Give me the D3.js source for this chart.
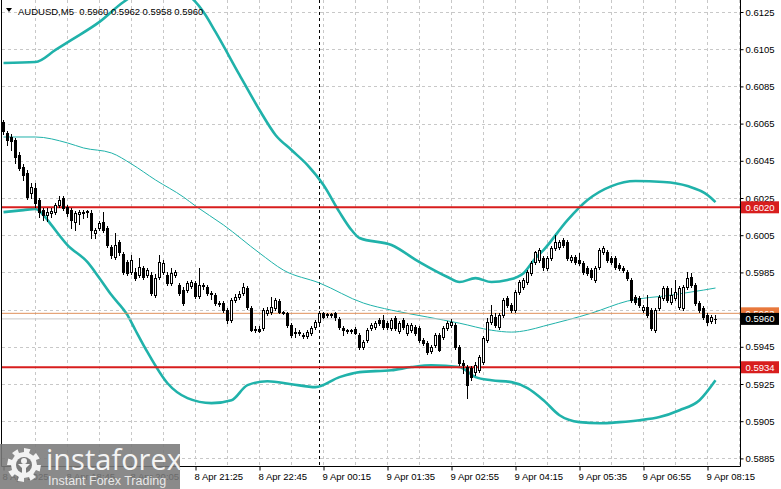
<!DOCTYPE html>
<html><head><meta charset="utf-8">
<script src="https://cdn.jsdelivr.net/npm/d3@7/dist/d3.min.js"></script>
<style>html,body{margin:0;padding:0;background:#fff;overflow:hidden}</style>
</head><body>
<svg id="c" width="781" height="489" xmlns="http://www.w3.org/2000/svg"></svg>
<script>
// ---------------- DATA ----------------
const symbolTitle = "AUDUSD,M5";
const lastQuote = ["0.5960", "0.5962", "0.5958", "0.5960"];

const open = [
0.60658,0.60600,0.60578,0.60562,0.60481,0.60416,0.60384,0.60277,0.60304,0.60239,
0.60185,0.60158,0.60169,0.60174,0.60212,0.60250,0.60201,0.60185,0.60120,0.60163,
0.60174,0.60174,0.60169,0.60062,0.60088,0.60120,0.60088,0.59986,0.59932,0.60013,
0.59948,0.59905,0.59851,0.59851,0.59835,0.59873,0.59835,0.59835,0.59728,0.59824,
0.59851,0.59835,0.59793,0.59835,0.59782,0.59755,0.59755,0.59777,0.59793,0.59723,
0.59782,0.59771,0.59739,0.59728,0.59685,0.59685,0.59647,0.59593,0.59701,0.59717,
0.59739,0.59766,0.59658,0.59544,0.59544,0.59550,0.59631,0.59636,0.59658,0.59696,
0.59636,0.59631,0.59566,0.59528,0.59528,0.59512,0.59507,0.59523,0.59555,0.59582,
0.59631,0.59625,0.59625,0.59631,0.59598,0.59550,0.59539,0.59539,0.59544,0.59512,
0.59448,0.59486,0.59550,0.59555,0.59593,0.59593,0.59577,0.59550,0.59604,0.59534,
0.59593,0.59523,0.59539,0.59555,0.59550,0.59486,0.59470,0.59426,0.59459,0.59512,
0.59502,0.59550,0.59566,0.59566,0.59448,0.59362,0.59340,0.59335,0.59313,0.59324,
0.59367,0.59486,0.59582,0.59609,0.59555,0.59620,0.59712,0.59674,0.59647,0.59744,
0.59771,0.59798,0.59846,0.59905,0.59916,0.59927,0.59873,0.59927,0.59981,0.59986,
0.60024,0.60013,0.59916,0.59932,0.59916,0.59900,0.59873,0.59862,0.59809,0.59878,
0.59959,0.59959,0.59927,0.59927,0.59889,0.59873,0.59851,0.59809,0.59717,0.59712,
0.59647,0.59663,0.59647,0.59539,0.59658,0.59712,0.59766,0.59690,0.59712,0.59663,
0.59658,0.59771,0.59824,0.59782,0.59685,0.59658,0.59620,0.59588,0.59600];

const high = [
0.60669,0.60611,0.60594,0.60573,0.60497,0.60432,0.60400,0.60331,0.60331,0.60250,
0.60196,0.60196,0.60196,0.60223,0.60261,0.60261,0.60212,0.60196,0.60180,0.60185,
0.60185,0.60185,0.60185,0.60088,0.60126,0.60174,0.60099,0.59997,0.60062,0.60024,
0.59959,0.59916,0.59943,0.59873,0.59927,0.59884,0.59873,0.59851,0.59841,0.59943,
0.59916,0.59851,0.59873,0.59862,0.59793,0.59771,0.59803,0.59809,0.59803,0.59873,
0.59793,0.59782,0.59750,0.59739,0.59696,0.59696,0.59658,0.59712,0.59733,0.59750,
0.59793,0.59777,0.59669,0.59560,0.59560,0.59658,0.59663,0.59717,0.59712,0.59706,
0.59642,0.59636,0.59577,0.59550,0.59539,0.59523,0.59539,0.59560,0.59593,0.59642,
0.59636,0.59631,0.59631,0.59636,0.59609,0.59560,0.59544,0.59544,0.59555,0.59523,
0.59486,0.59550,0.59577,0.59588,0.59604,0.59620,0.59588,0.59604,0.59615,0.59588,
0.59604,0.59577,0.59577,0.59566,0.59560,0.59496,0.59480,0.59459,0.59523,0.59523,
0.59560,0.59588,0.59598,0.59577,0.59459,0.59378,0.59351,0.59345,0.59367,0.59405,
0.59507,0.59604,0.59674,0.59631,0.59631,0.59712,0.59723,0.59685,0.59755,0.59809,
0.59819,0.59862,0.59911,0.59965,0.59981,0.59938,0.59938,0.59991,0.60051,0.60024,
0.60035,0.60024,0.59943,0.59943,0.59954,0.59911,0.59884,0.59873,0.59884,0.59981,
0.59991,0.59970,0.59938,0.59938,0.59900,0.59884,0.59862,0.59819,0.59728,0.59723,
0.59674,0.59728,0.59658,0.59658,0.59728,0.59777,0.59777,0.59766,0.59809,0.59777,
0.59782,0.59851,0.59846,0.59793,0.59696,0.59669,0.59631,0.59620,0.59620];

const low = [
0.60594,0.60535,0.60508,0.60438,0.60400,0.60347,0.60245,0.60250,0.60201,0.60147,
0.60131,0.60126,0.60147,0.60163,0.60201,0.60185,0.60153,0.60088,0.60078,0.60109,
0.60142,0.60147,0.60035,0.60035,0.60078,0.60067,0.59986,0.59927,0.59922,0.59943,
0.59840,0.59835,0.59840,0.59809,0.59824,0.59814,0.59824,0.59728,0.59717,0.59814,
0.59840,0.59782,0.59782,0.59824,0.59728,0.59674,0.59744,0.59766,0.59712,0.59712,
0.59760,0.59728,0.59706,0.59674,0.59669,0.59636,0.59577,0.59582,0.59690,0.59706,
0.59728,0.59653,0.59534,0.59528,0.59528,0.59539,0.59620,0.59625,0.59647,0.59631,
0.59625,0.59555,0.59502,0.59502,0.59512,0.59496,0.59496,0.59512,0.59544,0.59571,
0.59604,0.59609,0.59609,0.59593,0.59544,0.59512,0.59523,0.59523,0.59518,0.59437,
0.59437,0.59475,0.59539,0.59544,0.59566,0.59544,0.59544,0.59539,0.59539,0.59523,
0.59544,0.59512,0.59528,0.59512,0.59475,0.59459,0.59410,0.59416,0.59448,0.59426,
0.59491,0.59539,0.59555,0.59437,0.59351,0.59308,0.59174,0.59270,0.59297,0.59313,
0.59356,0.59475,0.59571,0.59555,0.59544,0.59609,0.59663,0.59636,0.59636,0.59733,
0.59760,0.59787,0.59835,0.59894,0.59905,0.59862,0.59862,0.59916,0.59970,0.59975,
0.59986,0.59916,0.59905,0.59894,0.59889,0.59840,0.59835,0.59814,0.59798,0.59868,
0.59948,0.59905,0.59894,0.59868,0.59862,0.59851,0.59809,0.59690,0.59679,0.59663,
0.59636,0.59609,0.59539,0.59528,0.59647,0.59701,0.59690,0.59679,0.59701,0.59653,
0.59647,0.59760,0.59771,0.59674,0.59636,0.59598,0.59566,0.59577,0.59580];

const close = [
0.60611,0.60562,0.60557,0.60470,0.60411,0.60373,0.60255,0.60309,0.60223,0.60174,
0.60158,0.60174,0.60180,0.60212,0.60239,0.60196,0.60169,0.60131,0.60169,0.60174,
0.60169,0.60180,0.60078,0.60078,0.60115,0.60078,0.59997,0.59943,0.59997,0.59959,
0.59851,0.59846,0.59916,0.59819,0.59878,0.59824,0.59862,0.59739,0.59819,0.59905,
0.59900,0.59793,0.59846,0.59851,0.59739,0.59685,0.59793,0.59798,0.59723,0.59782,
0.59777,0.59739,0.59733,0.59685,0.59679,0.59647,0.59593,0.59701,0.59717,0.59733,
0.59771,0.59663,0.59539,0.59539,0.59534,0.59647,0.59647,0.59663,0.59701,0.59636,
0.59631,0.59566,0.59512,0.59523,0.59523,0.59507,0.59528,0.59550,0.59582,0.59631,
0.59609,0.59620,0.59620,0.59609,0.59555,0.59539,0.59534,0.59534,0.59523,0.59448,
0.59475,0.59539,0.59566,0.59577,0.59577,0.59555,0.59555,0.59593,0.59550,0.59577,
0.59555,0.59566,0.59566,0.59523,0.59486,0.59470,0.59421,0.59448,0.59512,0.59432,
0.59550,0.59577,0.59582,0.59448,0.59362,0.59351,0.59244,0.59286,0.59351,0.59394,
0.59496,0.59582,0.59620,0.59566,0.59620,0.59701,0.59674,0.59647,0.59744,0.59798,
0.59809,0.59851,0.59900,0.59959,0.59970,0.59878,0.59927,0.59981,0.60013,0.60013,
0.59997,0.59927,0.59932,0.59905,0.59900,0.59851,0.59846,0.59824,0.59873,0.59970,
0.59981,0.59916,0.59905,0.59878,0.59873,0.59862,0.59819,0.59701,0.59690,0.59674,
0.59663,0.59620,0.59550,0.59647,0.59717,0.59766,0.59701,0.59728,0.59744,0.59766,
0.59771,0.59819,0.59782,0.59685,0.59647,0.59609,0.59582,0.59609,0.59600];

// Bollinger band (upper / lower) and slow moving average, sampled at bar indices
const upperIdx = [0,8,13,17,24,30,37,43,47,50,53,59,64,68,72,76,80,84,87,89,97,104,111,114,118,122,126,130,133,135,141,146,152,158,165,171,176,178];
const upperBand = [0.60976,0.60981,0.61046,0.61100,0.61197,0.61304,0.61380,0.61369,0.61326,0.61250,0.61143,0.60912,0.60723,0.60589,0.60508,0.60427,0.60320,0.60174,0.60078,0.60035,0.59997,0.59905,0.59825,0.59798,0.59819,0.59798,0.59809,0.59846,0.59927,0.59970,0.60131,0.60239,0.60314,0.60341,0.60336,0.60314,0.60266,0.60228];
const lowerIdx = [0,5,8,10,12,16,21,24,27,31,33,36,41,46,52,57,61,66,72,78,84,89,97,102,107,114,118,122,127,131,135,139,144,149,154,159,164,169,174,178];
const lowerBand = [0.60174,0.60185,0.60191,0.60158,0.60104,0.59997,0.59905,0.59819,0.59728,0.59620,0.59539,0.59421,0.59254,0.59174,0.59147,0.59163,0.59244,0.59265,0.59249,0.59233,0.59287,0.59314,0.59324,0.59341,0.59351,0.59341,0.59287,0.59270,0.59260,0.59228,0.59163,0.59082,0.59045,0.59039,0.59045,0.59055,0.59072,0.59109,0.59163,0.59270];
const maIdx = [0,8,16,20,27,32,38,45,48,55,64,70,79,90,97,106,114,122,127,131,135,147,156,167,175,178];
const maLine = [0.60578,0.60578,0.60546,0.60519,0.60492,0.60433,0.60347,0.60255,0.60207,0.60105,0.59954,0.59862,0.59793,0.59685,0.59647,0.59610,0.59577,0.59539,0.59529,0.59539,0.59561,0.59631,0.59696,0.59728,0.59755,0.59766];

const priceTicks = [0.6125,0.6105,0.6085,0.6065,0.6045,0.6025,0.6005,0.5985,0.5965,0.5945,0.5925,0.5905,0.5885];
const hiddenTickLabels = [0.5965];
const timeLabels = ["8 Apr 2025","8 Apr 18:45","8 Apr 20:05","8 Apr 21:25","8 Apr 22:45","9 Apr 00:15","9 Apr 01:35","9 Apr 02:55","9 Apr 04:15","9 Apr 05:35","9 Apr 06:55","9 Apr 08:15"];
const timeLabelBars = [0,16,32,48,64,80,96,112,128,144,160,176];

const resistanceLevel = 0.6020;
const supportLevel = 0.5934;
const orangeLevel = 0.5963;
const bidLevel = 0.5960;
const separatorBar = 79;

// ---------------- DRAW ----------------
const W = 781, H = 489;
const plotL = 1.5, plotR = 740.5, plotB = 466.5;
const FONT = "'Liberation Sans', Arial, sans-serif";
const teal = "#20b2aa";

const svg = d3.select("#c");
svg.append("rect").attr("width", W).attr("height", H).attr("fill", "#fff");

const N = close.length;
const x = d3.scaleLinear().domain([0, N - 1]).range([3.5, 3.5 + 4 * (N - 1)]);
const y = d3.scaleLinear().domain([0.5885, 0.6125]).range([458.4, 12]);

svg.append("defs").append("clipPath").attr("id", "plot")
  .append("rect").attr("x", 2).attr("y", 0).attr("width", plotR - 2.5).attr("height", plotB);

const plot = svg.append("g").attr("clip-path", "url(#plot)");

// grid
const grid = plot.append("g").attr("stroke", "#c8c8c8").attr("stroke-width", 1).attr("stroke-dasharray", "3,3");
grid.selectAll("line.h").data(priceTicks).join("line")
  .attr("x1", 2).attr("x2", plotR)
  .attr("y1", d => Math.round(y(d)) + 0.5).attr("y2", d => Math.round(y(d)) + 0.5);
const vGrid = d3.range(8, N + 8, 8);
grid.selectAll("line.v").data(vGrid).join("line")
  .attr("x1", d => x(d)).attr("x2", d => x(d)).attr("y1", 0).attr("y2", plotB);

// period separator
plot.append("line").attr("x1", x(separatorBar)).attr("x2", x(separatorBar))
  .attr("y1", 0).attr("y2", plotB).attr("stroke", "#000").attr("stroke-dasharray", "3,3");

// indicator lines
const sampleLine = d3.line().x(d => x(d[0])).y(d => y(d[1])).curve(d3.curveMonotoneX);
plot.append("path").attr("d", sampleLine(maIdx.map((i, k) => [i, maLine[k]])))
  .attr("fill", "none").attr("stroke", teal).attr("stroke-width", 1);
plot.append("path").attr("d", sampleLine(upperIdx.map((i, k) => [i, upperBand[k]])))
  .attr("fill", "none").attr("stroke", teal).attr("stroke-width", 2.6);
plot.append("path").attr("d", sampleLine(lowerIdx.map((i, k) => [i, lowerBand[k]])))
  .attr("fill", "none").attr("stroke", teal).attr("stroke-width", 2.6);

// horizontal levels
function hline(v, color, w) {
  plot.append("line").attr("x1", 2).attr("x2", plotR)
    .attr("y1", y(v)).attr("y2", y(v)).attr("stroke", color).attr("stroke-width", w);
}
hline(bidLevel, "#c8c8c8", 1);
hline(orangeLevel, "#e0905a", 1);
hline(resistanceLevel, "#d81e1e", 2);
hline(supportLevel, "#d81e1e", 2);

// candles
const bars = d3.range(N);
const cg = plot.append("g");
cg.selectAll("line.w").data(bars).join("line")
  .attr("x1", i => x(i)).attr("x2", i => x(i))
  .attr("y1", i => Math.round(y(high[i]))).attr("y2", i => Math.round(y(low[i])) + 1)
  .attr("stroke", "#000").attr("stroke-width", 1);
cg.selectAll("rect.b").data(bars).join("rect")
  .each(function (i) {
    const yo = Math.round(y(open[i])), yc = Math.round(y(close[i]));
    const top = Math.min(yo, yc), bot = Math.max(yo, yc);
    const r = d3.select(this);
    if (close[i] < open[i]) {
      r.attr("x", x(i) - 1.5).attr("width", 3).attr("y", top).attr("height", Math.max(1, bot - top + 1))
        .attr("fill", "#000");
    } else if (close[i] > open[i]) {
      r.attr("x", x(i) - 1).attr("width", 2).attr("y", top + 0.5).attr("height", Math.max(1, bot - top))
        .attr("fill", "#fff").attr("stroke", "#000").attr("stroke-width", 1);
    } else {
      r.attr("x", x(i) - 1.5).attr("width", 3).attr("y", top).attr("height", 1).attr("fill", "#000");
    }
  });

// borders
svg.append("line").attr("x1", plotL).attr("x2", plotL).attr("y1", 0).attr("y2", plotB).attr("stroke", "#000");
svg.append("line").attr("x1", plotR).attr("x2", plotR).attr("y1", 0).attr("y2", plotB).attr("stroke", "#000");
svg.append("line").attr("x1", plotL).attr("x2", plotR).attr("y1", plotB).attr("y2", plotB).attr("stroke", "#000");

// right price axis
const yAxis = d3.axisRight(y)
  .tickValues(priceTicks.filter(v => !hiddenTickLabels.includes(v)))
  .tickFormat(d3.format(".4f")).tickSize(3).tickPadding(2);
const ya = svg.append("g").attr("transform", `translate(${plotR},0)`).call(yAxis);
ya.select(".domain").remove();
ya.selectAll("line").attr("stroke", "#000");
ya.selectAll("text").attr("font-family", FONT).attr("font-size", "9.5px").attr("fill", "#000");

// bottom time axis
const xAxis = d3.axisBottom(x).tickValues(timeLabelBars)
  .tickFormat((d, i) => timeLabels[i]).tickSize(4).tickPadding(3);
const xa = svg.append("g").attr("transform", `translate(0,${plotB})`).call(xAxis);
xa.select(".domain").remove();
xa.selectAll("line").attr("stroke", "#000");
xa.selectAll("text").attr("font-family", FONT).attr("font-size", "9.5px").attr("fill", "#000")
  .attr("text-anchor", "start").attr("dx", "-1.5");

// price labels on the axis
function priceLabel(v, bg, fg) {
  const cy = y(v);
  svg.append("rect").attr("x", 741).attr("y", cy - 6).attr("width", 38).attr("height", 12).attr("fill", bg);
  svg.append("text").attr("x", 745.5).attr("y", cy + 3.5).attr("font-family", FONT)
    .attr("font-size", "9.5px").attr("fill", fg).text(d3.format(".4f")(v));
}
priceLabel(resistanceLevel, "#d81e1e", "#fff");
priceLabel(supportLevel, "#d81e1e", "#fff");
priceLabel(orangeLevel, "#e8783c", "#fff");
priceLabel(bidLevel, "#000", "#fff");

// title
svg.append("path").attr("d", "M6,8 L12,8 L9,12 Z").attr("fill", "#000");
svg.append("text").attr("x", 18).attr("y", 14.5).attr("font-family", FONT).attr("font-size", "9.5px")
  .attr("fill", "#000").attr("xml:space", "preserve")
  .text(symbolTitle + "  " + lastQuote.join(" "));

// watermark logo
const logo = svg.append("g");
logo.append("rect").attr("x", 0).attr("y", 444).attr("width", 180).attr("height", 45)
  .attr("fill", "#7a7a7a").attr("opacity", 0.88);
const gcx = 24, gcy = 465, teeth = 8;
let gp = "";
for (let k = 0; k < teeth * 2; k++) {
  const a0 = (k / (teeth * 2)) * 2 * Math.PI - Math.PI / 2;
  const a1 = ((k + 1) / (teeth * 2)) * 2 * Math.PI - Math.PI / 2;
  const r = (k % 2 === 0) ? 17 : 13;
  gp += (k === 0 ? "M" : "L") + (gcx + r * Math.cos(a0)).toFixed(1) + "," + (gcy + r * Math.sin(a0)).toFixed(1);
  gp += "L" + (gcx + r * Math.cos(a1)).toFixed(1) + "," + (gcy + r * Math.sin(a1)).toFixed(1);
}
gp += "Z";
logo.append("path").attr("d", gp).attr("fill", "#f2f2f2");
logo.append("circle").attr("cx", gcx).attr("cy", gcy).attr("r", 8).attr("fill", "#7a7a7a");
logo.append("circle").attr("cx", gcx).attr("cy", gcy - 4).attr("r", 3).attr("fill", "#f2f2f2");
logo.append("path").attr("d", `M${gcx - 6},${gcy - 1} L${gcx + 6},${gcy - 1} L${gcx + 2},${gcy + 3} L${gcx + 2},${gcy + 11} L${gcx - 2},${gcy + 11} L${gcx - 2},${gcy + 3} Z`).attr("fill", "#f2f2f2");
logo.append("text").attr("x", 46).attr("y", 470).attr("font-family", "'Open Sans', 'Liberation Sans', sans-serif")
  .attr("font-size", "29px").attr("fill", "#f4f4f4").text("instaforex");
logo.append("text").attr("x", 48).attr("y", 485).attr("font-family", FONT)
  .attr("font-size", "12.5px").attr("fill", "#e8e8e8").text("Instant Forex Trading");
</script>
</body></html>
